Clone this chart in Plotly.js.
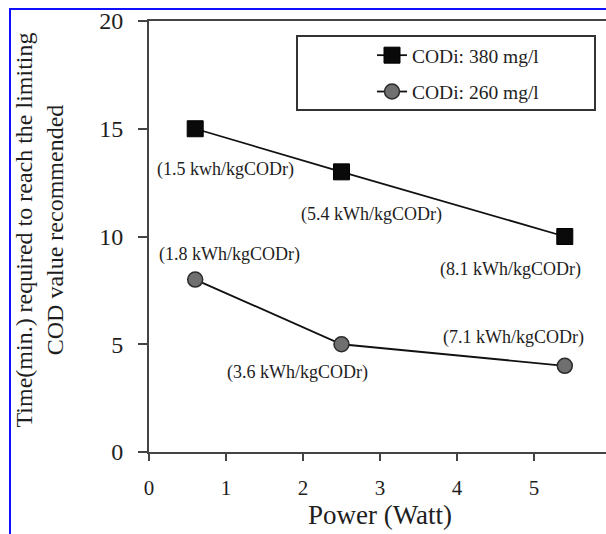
<!DOCTYPE html>
<html>
<head>
<meta charset="utf-8">
<script src="https://cdn.plot.ly/plotly-3.0.1.min.js"></script>
<style>
  html, body { margin: 0; padding: 0; overflow: hidden; background: #fff; width: 606px; height: 534px; }
  #chart { position: absolute; left: 0; top: 0; width: 620px; height: 534px; }
  #frame { position: absolute; left: 9px; top: 8px; width: 620px; height: 540px;
           border-left: 2px solid #1010ff; border-top: 2px solid #1010ff; pointer-events: none; }
</style>
</head>
<body>
<div id="chart"></div>
<div id="frame"></div>
<script>
// ---- data ----
const power = [0.6, 2.5, 5.4];
const time380 = [15, 13, 10];
const time260 = [8, 5, 4];
const seriesNames = ["CODi: 380 mg/l", "CODi: 260 mg/l"];
const labels380 = ["(1.5 kwh/kgCODr)", "(5.4 kWh/kgCODr)", "(8.1 kWh/kgCODr)"];
const labels260 = ["(1.8 kWh/kgCODr)", "(3.6 kWh/kgCODr)", "(7.1 kWh/kgCODr)"];
const xTicks = [0, 1, 2, 3, 4, 5, 6];
const yTicks = [0, 5, 10, 15, 20];
const xTitle = "Power (Watt)";
const yTitleLines = ["Time(min.) required to reach the limiting", "COD value recommended"];

// label offsets (data units) relative to each point
const off380 = [[0.39, -1.9], [0.39, -2.0], [-0.71, -1.53]];
const off260 = [[0.44, 1.17], [-0.57, -1.3], [-0.67, 1.32]];

const serif = "'Liberation Serif', 'Times New Roman', serif";
const ink = "#1e1e1e";

const traces = [
  {
    x: power, y: time380, name: seriesNames[0], type: "scatter", mode: "lines+markers",
    legendgroup: "a",
    line: { color: "#111", width: 1.8 },
    marker: { symbol: "square", size: 16, color: "#0a0a0a", line: { color: "#000", width: 1 } }
  },
  {
    x: power, y: time260, name: seriesNames[1], type: "scatter", mode: "lines+markers",
    legendgroup: "b",
    line: { color: "#111", width: 1.8 },
    marker: { symbol: "circle", size: 15, color: "#6f6f6f", line: { color: "#2a2a2a", width: 1.5 } }
  }
];

const annotations = [];
power.forEach((p, i) => {
  annotations.push({ x: p + off380[i][0], y: time380[i] + off380[i][1], text: labels380[i],
    showarrow: false, xanchor: "center", yanchor: "middle", font: { family: serif, size: 18, color: ink } });
  annotations.push({ x: p + off260[i][0], y: time260[i] + off260[i][1], text: labels260[i],
    showarrow: false, xanchor: "center", yanchor: "middle", font: { family: serif, size: 18, color: ink } });
});
annotations.push({
  xref: "paper", yref: "paper", x: (39 - 149) / 462, y: 0.5 + 6 / 431,
  text: yTitleLines.join("<br>"), textangle: -90, showarrow: false,
  xanchor: "center", yanchor: "middle", align: "center",
  font: { family: serif, size: 24, color: ink }
});

const layout = {
  width: 620, height: 534,
  margin: { l: 149, r: 9, t: 21, b: 82 },
  paper_bgcolor: "#fff", plot_bgcolor: "#fff",
  showlegend: true,
  legend: {
    x: (372 - 149) / 462, y: 1 - (36 - 21) / 431, xanchor: "left", yanchor: "top",
    bgcolor: "rgba(0,0,0,0)", borderwidth: 0,
    traceorder: "grouped", tracegroupgap: 8,
    font: { family: serif, size: 19.5, color: ink }
  },
  xaxis: {
    range: [0, 6], tickvals: xTicks, ticktext: xTicks.map(String),
    showgrid: false, zeroline: false,
    showline: true, linecolor: "#444", linewidth: 2, mirror: true,
    ticks: "outside", ticklen: 7, tickwidth: 2, tickcolor: "#444",
    ticklabelstandoff: 9,
    tickfont: { family: serif, size: 21, color: ink },
    title: { text: xTitle, standoff: 0, font: { family: serif, size: 27, color: ink } }
  },
  yaxis: {
    range: [0, 20], tickvals: yTicks, ticktext: yTicks.map(String),
    showgrid: false, zeroline: false,
    showline: true, linecolor: "#444", linewidth: 2,
    ticks: "outside", ticklen: 9, tickwidth: 2, tickcolor: "#444",
    ticklabelstandoff: 10,
    tickfont: { family: serif, size: 24, color: ink }
  },
  shapes: [{
    type: "rect", xref: "paper", yref: "paper",
    x0: (297 - 149) / 462, x1: (595 - 149) / 462,
    y0: 1 - (110 - 21) / 431, y1: 1 - (36 - 21) / 431,
    line: { color: "#333", width: 2 }, fillcolor: "rgba(0,0,0,0)"
  }],
  annotations: annotations
};

Plotly.newPlot("chart", traces, layout, { displayModeBar: false, staticPlot: true });
</script>
</body>
</html>
